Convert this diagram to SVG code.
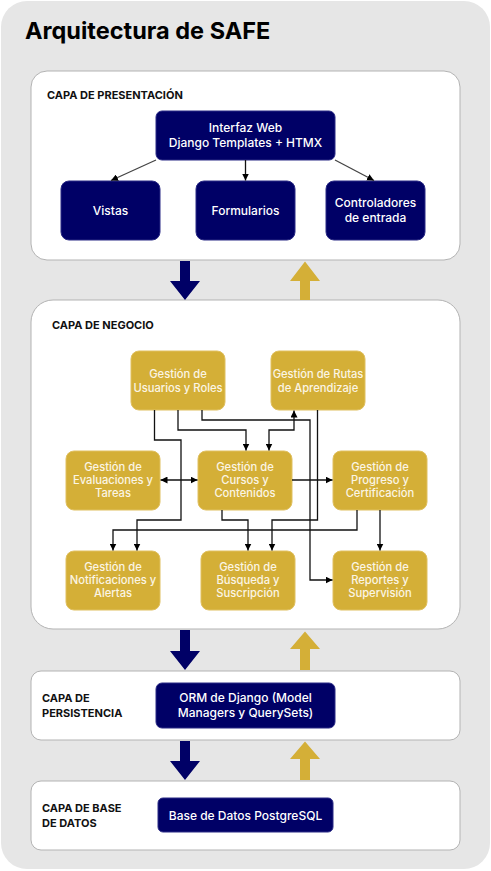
<svg xmlns="http://www.w3.org/2000/svg" width="491" height="871" viewBox="0 0 491 871">
<defs>
<style>
.layer{fill:#ffffff;stroke:#b3b3b3;stroke-width:1}
.navy{fill:#000066;stroke:#2a2a85;stroke-width:1}
.gold{fill:#d4af37;stroke:#e0c060;stroke-width:1}
.lbl{font-family:Inter,"Liberation Sans",sans-serif;font-weight:700;font-size:11px;fill:#111}
.nt{font-family:Inter,"Liberation Sans",sans-serif;font-weight:500;font-size:12px;fill:#ffffff;text-anchor:middle}
.gt{font-family:Inter,"Liberation Sans",sans-serif;font-weight:500;font-size:11.2px;fill:#fbf5e4;text-anchor:middle}
.con{fill:none;stroke:#111;stroke-width:1.3}
.dcon{fill:none;stroke:#444;stroke-width:1.3}
</style>
<marker id="ah" viewBox="0 0 10 10" refX="10" refY="5" markerWidth="7" markerHeight="7" markerUnits="userSpaceOnUse" orient="auto-start-reverse">
<path d="M0,0 L10,5 L0,10 z" fill="#000"/>
</marker>
</defs>
<rect x="1" y="1" width="489" height="868" rx="26" fill="#e6e6e6"/>
<text x="25" y="39" font-family="Inter,'Liberation Sans',sans-serif" font-weight="700" font-size="23.5" fill="#000">Arquitectura de SAFE</text>

<g id="layer-presentacion">
<rect class="layer" x="31" y="71" width="429" height="189" rx="16"/>
<text class="lbl" x="47" y="99">CAPA DE PRESENTACIÓN</text>
</g>
<g id="layer-negocio">
<rect class="layer" x="31" y="300" width="429" height="329" rx="22"/>
<text class="lbl" x="52" y="329">CAPA DE NEGOCIO</text>
</g>
<g id="layer-persistencia">
<rect class="layer" x="31" y="671" width="429" height="69" rx="10"/>
<text class="lbl" x="42" y="702">CAPA DE</text>
<text class="lbl" x="42" y="717">PERSISTENCIA</text>
</g>
<g id="layer-datos">
<rect class="layer" x="31" y="781" width="429" height="69" rx="10"/>
<text class="lbl" x="42" y="812">CAPA DE BASE</text>
<text class="lbl" x="42" y="827">DE DATOS</text>
</g>

<g id="interfaz"><rect class="navy" x="156" y="111" width="179" height="49" rx="6"/>
<text class="nt" x="245.5" y="132">Interfaz Web</text><text class="nt" x="245.5" y="147">Django Templates + HTMX</text></g>
<g id="vistas"><rect class="navy" x="61" y="181" width="99" height="59" rx="8"/>
<text class="nt" x="110.5" y="214.5">Vistas</text></g>
<g id="formularios"><rect class="navy" x="196" y="181" width="99" height="59" rx="8"/>
<text class="nt" x="245.5" y="214.5">Formularios</text></g>
<g id="controladores"><rect class="navy" x="326" y="181" width="99" height="59" rx="8"/>
<text class="nt" x="375.5" y="207">Controladores</text><text class="nt" x="375.5" y="222">de entrada</text></g>

<g id="usuarios"><rect class="gold" x="131" y="351" width="94" height="59" rx="8"/>
<text class="gt" x="178" y="377.5">Gestión de</text><text class="gt" x="178" y="391.5">Usuarios y Roles</text></g>
<g id="rutas"><rect class="gold" x="271" y="351" width="94" height="59" rx="8"/>
<text class="gt" x="318" y="377.5">Gestión de Rutas</text><text class="gt" x="318" y="391.5">de Aprendizaje</text></g>
<g id="evaluaciones"><rect class="gold" x="66" y="451" width="94" height="59" rx="8"/>
<text class="gt" x="113" y="471">Gestión de</text><text class="gt" x="113" y="484">Evaluaciones y</text><text class="gt" x="113" y="497">Tareas</text></g>
<g id="cursos"><rect class="gold" x="198" y="451" width="94" height="59" rx="8"/>
<text class="gt" x="245" y="471">Gestión de</text><text class="gt" x="245" y="484">Cursos y</text><text class="gt" x="245" y="497">Contenidos</text></g>
<g id="progreso"><rect class="gold" x="333" y="451" width="94" height="59" rx="8"/>
<text class="gt" x="380" y="471">Gestión de</text><text class="gt" x="380" y="484">Progreso y</text><text class="gt" x="380" y="497">Certificación</text></g>
<g id="notificaciones"><rect class="gold" x="66" y="551" width="94" height="59" rx="8"/>
<text class="gt" x="113" y="571">Gestión de</text><text class="gt" x="113" y="584">Notificaciones y</text><text class="gt" x="113" y="597">Alertas</text></g>
<g id="busqueda"><rect class="gold" x="201" y="551" width="94" height="59" rx="8"/>
<text class="gt" x="248" y="571">Gestión de</text><text class="gt" x="248" y="584">Búsqueda y</text><text class="gt" x="248" y="597">Suscripción</text></g>
<g id="reportes"><rect class="gold" x="333" y="551" width="94" height="59" rx="8"/>
<text class="gt" x="380" y="571">Gestión de</text><text class="gt" x="380" y="584">Reportes y</text><text class="gt" x="380" y="597">Supervisión</text></g>

<g id="orm"><rect class="navy" x="156" y="683" width="179" height="45" rx="6"/>
<text class="nt" x="245.5" y="702">ORM de Django (Model</text><text class="nt" x="245.5" y="717">Managers y QuerySets)</text></g>
<g id="postgres"><rect class="navy" x="158" y="798" width="175" height="34" rx="5"/>
<text class="nt" x="245.5" y="819.5">Base de Datos PostgreSQL</text></g>

<g id="connectors">
<path class="dcon" d="M156,160 L111,180.5" marker-end="url(#ah)"/>
<path class="con" d="M245.5,160 V180.5" marker-end="url(#ah)"/>
<path class="dcon" d="M335,160 L374,180.5" marker-end="url(#ah)"/>

<path class="con" d="M154.5,410 V440 H181 V520 H137 V550.5" marker-end="url(#ah)"/>
<path class="con" d="M178,410 V430 H246 V450.5" marker-end="url(#ah)"/>
<path class="con" d="M202,410 V420 H310 V580 H332.5" marker-end="url(#ah)"/>
<path class="con" d="M269,450.5 V430 H294 V410.5" marker-start="url(#ah)" marker-end="url(#ah)"/>
<path class="con" d="M317.5,410 V520 H272 V550.5" marker-end="url(#ah)"/>
<path class="con" d="M160.5,480 H197.5" marker-start="url(#ah)" marker-end="url(#ah)"/>
<path class="con" d="M292,480 H332.5" marker-end="url(#ah)"/>
<path class="con" d="M222,510 V520 H248 V550.5" marker-end="url(#ah)"/>
<path class="con" d="M357,510 V530 H113 V550.5" marker-end="url(#ah)"/>
<path class="con" d="M380,510 V550.5" marker-end="url(#ah)"/>

<path d="M180,261 V281 H170 L185,300 L200,281 H190 V261 z" fill="#000066"/>
<path d="M300,300 V281 H290 L305,261.5 L320,281 H310 V300 z" fill="#d4af37"/>
<path d="M180,630 V651 H170 L185,670 L200,651 H190 V630 z" fill="#000066"/>
<path d="M300,670 V649 H290 L305,631.5 L320,649 H310 V670 z" fill="#d4af37"/>
<path d="M180,741 V761 H170 L185,780 L200,761 H190 V741 z" fill="#000066"/>
<path d="M300,780 V759 H290 L305,741.5 L320,759 H310 V780 z" fill="#d4af37"/>
</g>
</svg>
